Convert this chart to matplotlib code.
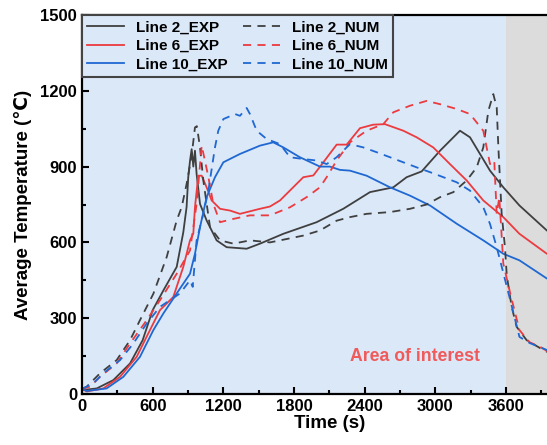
import numpy as np
import matplotlib
matplotlib.use('Agg')
import matplotlib.pyplot as plt
from matplotlib.ticker import MultipleLocator, FixedLocator

plt.rcParams['font.family'] = ['Liberation Sans', 'DejaVu Sans']
plt.rcParams['font.weight'] = 'bold'

#-----------------------------------------------------------------------------------------
# Curves: time (s) and average temperature (C)
exp2_t = [0, 11, 125, 266, 408, 515, 600, 691, 804, 860, 888, 902, 917, 931, 945, 959, 973,
          1002, 1058, 1143, 1228, 1398, 1511, 1709, 1992, 2218, 2445, 2643, 2756, 2884, 3040,
          3209, 3294, 3464, 3577, 3714, 3947, 4200]
exp2_T = [20, 16, 22, 55, 121, 213, 332, 410, 503, 640, 740, 858, 923, 969, 900, 963, 871,
          752, 687, 608, 581, 575, 595, 634, 680, 733, 799, 818, 858, 881, 963,
          1042, 1016, 884, 818, 746, 647, 560]

num2_t = [0, 40, 153, 294, 408, 492, 606, 719, 804, 846, 888, 930, 959, 975, 1002, 1030, 1087,
          1172, 1285, 1426, 1596, 1681, 1879, 2020, 2162, 2275, 2416, 2615, 2785, 2926, 3040,
          3153, 3266, 3351, 3407, 3450, 3492, 3521, 3535, 3549, 3563, 3591, 3606, 3648, 3690,
          3775, 3888, 3948, 4200]
num2_T = [20, 29, 82, 134, 213, 292, 397, 542, 687, 739, 831, 940, 1055, 1060, 976, 845, 660,
          608, 595, 608, 600, 608, 627, 647, 686, 700, 713, 720, 733, 750, 779,
          799, 845, 897, 976, 1121, 1187, 1134, 976, 845, 713, 581, 470, 345, 266,
          213, 182, 167, 140]

exp6_t = [0, 40, 181, 323, 464, 549, 662, 775, 860, 917, 945, 959, 987, 1016, 1058, 1101, 1172,
          1257, 1341, 1511, 1596, 1681, 1879, 1964, 2049, 2162, 2247, 2360, 2473, 2572, 2728,
          2841, 2982, 3124, 3266, 3407, 3577, 3714, 3947, 4200]
exp6_T = [20, 10, 22, 68, 147, 227, 332, 384, 503, 608, 635, 739, 864, 864, 818, 766, 733,
          726, 713, 733, 742, 766, 858, 865, 917, 987, 987, 1052, 1066, 1068, 1042,
          1016, 976, 910, 845, 766, 700, 634, 555, 500]

num6_t = [0, 68, 153, 294, 408, 549, 662, 804, 917, 973, 1016, 1044, 1073, 1115, 1172, 1285,
          1426, 1596, 1766, 1907, 2020, 2077, 2162, 2275, 2416, 2558, 2643, 2785, 2926, 3040,
          3181, 3294, 3407, 3464, 3500, 3521, 3543, 3577, 3643, 3714, 3800, 3888, 3948, 4200]
num6_T = [20, 29, 68, 121, 200, 292, 371, 476, 568, 752, 983, 923, 858, 752, 680, 693,
          707, 707, 739, 779, 818, 858, 924, 996, 1042, 1068, 1115, 1141, 1160, 1147,
          1128, 1108, 1042, 910, 924, 713, 779, 516, 384, 253, 205, 187, 170, 140]

exp10_t = [0, 40, 209, 351, 492, 606, 691, 804, 917, 959, 1002, 1058, 1129, 1200, 1341, 1511,
           1624, 1709, 1850, 2020, 2105, 2190, 2275, 2416, 2615, 2785, 2955, 3181, 3407,
           3577, 3714, 3947, 4200]
exp10_T = [20, 12, 22, 68, 147, 253, 319, 398, 476, 555, 660, 779, 858, 917, 950, 983,
           996, 976, 937, 900, 900, 887, 884, 864, 818, 785, 746, 674, 608,
           555, 529, 457, 420]

num10_t = [0, 96, 181, 323, 436, 549, 662, 832, 917, 940, 973, 1030, 1073, 1129, 1157, 1200,
           1299, 1341, 1398, 1426, 1483, 1568, 1681, 1766, 1879, 1992, 2077, 2162, 2275,
           2388, 2501, 2615, 2728, 2841, 2955, 3068, 3181, 3294, 3407, 3464, 3521, 3571,
           3629, 3714, 3804, 3948, 4200]
num10_T = [20, 42, 82, 134, 200, 279, 345, 398, 450, 424, 608, 713, 805, 976, 1042, 1088,
           1108, 1101, 1132, 1108, 1042, 1009, 989, 937, 930, 924, 910, 937, 989,
           976, 957, 937, 917, 897, 878, 858, 838, 805, 739, 673, 581, 490,
           384, 226, 201, 174, 150]

x_major = [0, 600, 1200, 1800, 2400, 3000, 3600]

#== ** == ** == ** == ** == ** == ** == ** == ** == ** == ** == ** == ** == ** == ** == **
c_gray = '#3f3f3f'
c_red = '#ec3b3f'
c_blue = '#1f68d2'
dash = (4.5, 3.5)

fig = plt.figure(figsize=(5.47, 4.45), dpi=100)
# right part of the axes runs off the picture, like the reference
ax = fig.add_axes([82/547, 51/445, 4200/8.49/547, 379/445])

ax.axvspan(0, 3600, color='#dbe8f8', lw=0, zorder=0)
ax.axvspan(3600, 4200, color='#dcdcdc', lw=0, zorder=0)

lw = 1.3
h1, = ax.plot(exp2_t, exp2_T, color=c_gray, lw=lw, label='Line 2_EXP')
h2, = ax.plot(exp6_t, exp6_T, color=c_red, lw=lw, label='Line 6_EXP')
h3, = ax.plot(exp10_t, exp10_T, color=c_blue, lw=lw, label='Line 10_EXP')
h4, = ax.plot(num2_t, num2_T, color=c_gray, lw=lw, dashes=dash, label='Line 2_NUM')
h5, = ax.plot(num6_t, num6_T, color=c_red, lw=lw, dashes=dash, label='Line 6_NUM')
h6, = ax.plot(num10_t, num10_T, color=c_blue, lw=lw, dashes=dash, label='Line 10_NUM')

ax.set_xlim(0, 4200)
ax.set_ylim(0, 1500)
ax.xaxis.set_major_locator(FixedLocator(x_major))
ax.xaxis.set_minor_locator(MultipleLocator(300))
ax.yaxis.set_major_locator(MultipleLocator(300))
ax.yaxis.set_minor_locator(MultipleLocator(150))
ax.tick_params(which='both', direction='in', width=1.5, top=False, right=False,
               labelsize=12)
ax.tick_params(which='major', length=5)
ax.tick_params(which='minor', length=3)
for s in ax.spines.values():
    s.set_linewidth(1.6)
    s.set_color('black')

ax.set_xlabel('Time (s)', fontsize=13.5, fontweight='bold', labelpad=1)
ax.set_ylabel('Average Temperature (℃)', fontsize=13.5, fontweight='bold', labelpad=6)

ax.text(2827, 147, 'Area of interest', color='#f05a5a', fontsize=12.7,
        fontweight='bold', ha='center', va='center')

leg = ax.legend(handles=[h1, h2, h3, h4, h5, h6], ncol=2, loc='upper left',
                bbox_to_anchor=(0, 1), borderaxespad=0, fontsize=11,
                handlelength=2.4, labelspacing=0.3, columnspacing=1.0,
                fancybox=False, facecolor='#dbe8f8', edgecolor='#444444',
                framealpha=1, borderpad=0.35)
leg.get_frame().set_linewidth(1.5)
for t in leg.get_texts():
    t.set_fontweight('bold')

plt.savefig('out.png', dpi=100)
